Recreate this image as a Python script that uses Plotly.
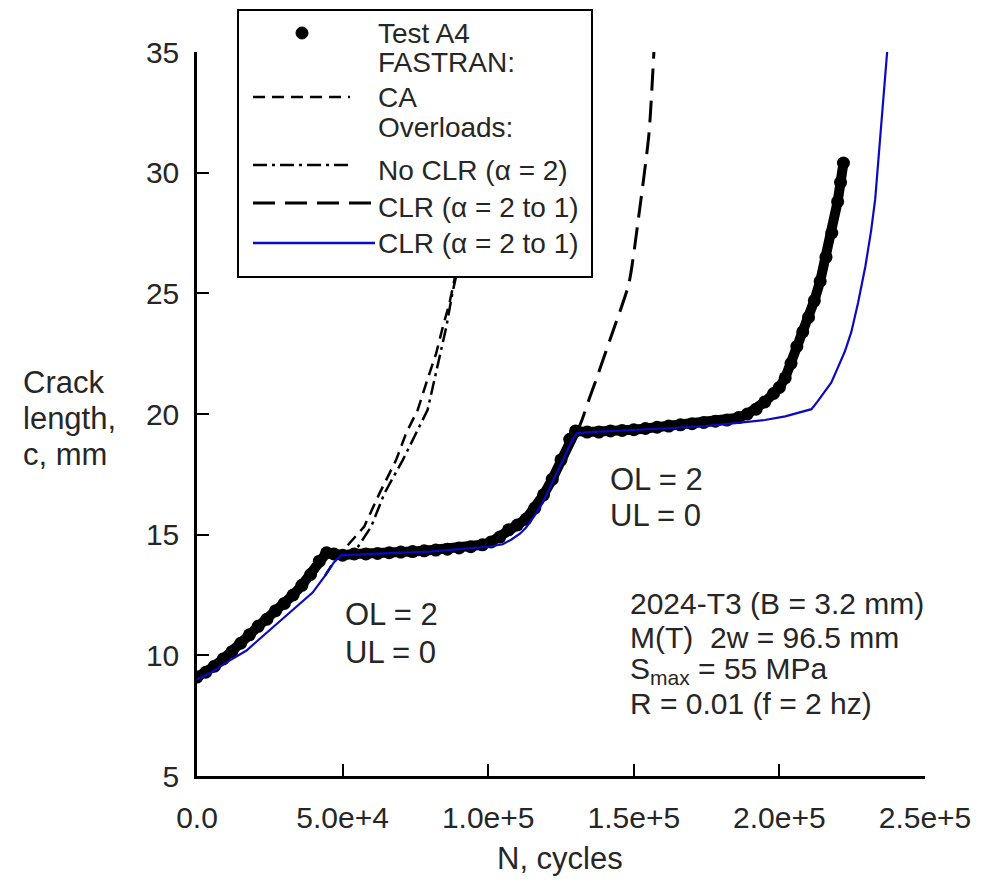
import plotly.graph_objects as go

# ---------------- data ----------------
test_N = [0, 3000, 6000, 9000, 12000, 15000, 18000, 21000, 24000, 27000, 30000, 33000,
          36000, 39000, 42000, 44500, 47000, 50000, 54000, 58000, 62000, 66000, 70000,
          74000, 78000, 82000, 86000, 90000, 94000, 98000, 101000, 104000, 107000, 110000,
          113000, 116000, 119000, 122000, 125000, 128000, 130000, 134000, 138000, 142000,
          146000, 150000, 154000, 158000, 162000, 166000, 170000, 174000, 178000, 182000,
          186000, 189000, 192000, 195000, 198000, 200000, 202000, 204000, 206000, 208000,
          210000, 212000, 214000, 216000, 218000, 220000, 221000, 222000]
test_c = [9.1, 9.3, 9.55, 9.85, 10.15, 10.5, 10.85, 11.2, 11.5, 11.85, 12.15, 12.5,
          12.9, 13.35, 13.9, 14.25, 14.2, 14.15, 14.2, 14.2, 14.22, 14.25, 14.28,
          14.3, 14.33, 14.36, 14.4, 14.45, 14.5, 14.58, 14.7, 14.9, 15.2, 15.4,
          15.65, 16.1, 16.65, 17.3, 18.1, 18.95, 19.3, 19.25, 19.25, 19.3,
          19.32, 19.35, 19.4, 19.45, 19.5, 19.55, 19.6, 19.65, 19.7, 19.75,
          19.85, 20.0, 20.2, 20.5, 20.85, 21.1, 21.5, 22.1, 22.8, 23.4,
          24.0, 24.7, 25.5, 26.5, 27.5, 28.8, 29.6, 30.4]

ca_N = [44000, 46600, 51300, 57400, 62700, 68400, 71800, 75800, 78700, 82100, 84400,
        86700, 88400, 92000, 96000, 100000, 103000]
ca_c = [13.3, 13.8, 14.5, 15.33, 16.72, 18.1, 19.2, 20.17, 21.27, 22.5, 23.6,
        24.6, 25.56, 27.6, 30.2, 33.0, 35.0]

noclr_N = [49500, 53000, 55300, 59800, 64400, 70700, 79200, 83200, 85600, 87700,
           92000, 96000, 100000, 103500]
noclr_c = [14.15, 14.24, 14.5, 15.33, 16.72, 18.1, 20.17, 22.24, 23.6, 25.0,
           27.4, 30.0, 32.8, 35.0]

clr_N = [130500, 132200, 134600, 137000, 142600, 148300, 151700, 155200, 156900]
clr_c = [19.25, 19.75, 20.6, 21.4, 23.35, 25.4, 28.2, 31.6, 35.0]

blue_N = [0, 5000, 10000, 17000, 25000, 32000, 39700, 44000, 47000, 49500,
          52000, 60000, 70000, 80000, 90000, 100000, 105000, 108000, 111000, 113000,
          116000, 118600, 121000, 124000, 126500, 128800, 130500, 135000, 145000, 160000,
          175000, 183600, 195000, 202000, 207000, 211000, 213000, 215500, 217800, 220000,
          222500, 224700, 227000, 229500, 231500, 232900, 234000, 235000, 236000, 237000]
blue_c = [9.0, 9.3, 9.7, 10.2, 11.05, 11.8, 12.6, 13.3, 13.85, 14.15,
          14.15, 14.2, 14.25, 14.3, 14.4, 14.5, 14.6, 14.8, 15.05, 15.3,
          15.8, 16.3, 16.9, 17.7, 18.3, 18.9, 19.2, 19.25, 19.3, 19.4,
          19.5, 19.6, 19.75, 19.9, 20.05, 20.2, 20.5, 20.9, 21.3, 21.9,
          22.6, 23.4, 24.6, 26.1, 27.6, 28.9, 30.5, 32.0, 33.5, 35.0]

x_tickvals = [0, 50000, 100000, 150000, 200000, 250000]
x_ticktext = ["0.0", "5.0e+4", "1.0e+5", "1.5e+5", "2.0e+5", "2.5e+5"]
y_tickvals = [5, 10, 15, 20, 25, 30, 35]

legend_labels = ["Test A4", "FASTRAN:", "CA", "Overloads:",
                 "No CLR (\u03b1 = 2)", "CLR (\u03b1 = 2 to 1)", "CLR (\u03b1 = 2 to 1)"]
info_lines = ["2024-T3 (B = 3.2 mm)", "M(T)  2w = 96.5 mm",
              "S<sub>max</sub> = 55 MPa", "R = 0.01 (f = 2 hz)"]

# ---------------- styles ----------------
FONT = "Liberation Sans, Arial, sans-serif"
TXT = "#262626"
BLUE = "#0A0AC0"
# page has an 8px body margin; plot area in page pixels: x 197..925, y 52..776
W, H = 989, 868
L, T = 189, 44
PW, PH = 728, 724
R, B = W - L - PW, H - T - PH


def px(x):  # page pixel -> paper
    return (x - 197) / PW


def py(y):
    return (776 - y) / PH


fig = go.Figure()
fig.add_trace(go.Scatter(x=ca_N, y=ca_c, mode="lines", showlegend=False,
                         line=dict(color="black", width=2.5, dash="12px,7px")))
fig.add_trace(go.Scatter(x=noclr_N, y=noclr_c, mode="lines", showlegend=False,
                         line=dict(color="black", width=2.5, dash="14px,5px,3px,5px")))
fig.add_trace(go.Scatter(x=clr_N, y=clr_c, mode="lines", showlegend=False,
                         line=dict(color="black", width=3, dash="22px,10px", shape="spline",
                                   smoothing=0.6)))
fig.add_trace(go.Scatter(x=test_N, y=test_c, mode="lines+markers", showlegend=False,
                         line=dict(color="black", width=10),
                         marker=dict(symbol="circle", size=13, color="black")))
fig.add_trace(go.Scatter(x=blue_N, y=blue_c, mode="lines", showlegend=False,
                         line=dict(color=BLUE, width=2.2)))

axis_common = dict(showline=True, linecolor="black", linewidth=2.5, mirror=False,
                   ticks="inside", ticklen=12, tickwidth=2, tickcolor="black",
                   showgrid=False, zeroline=False,
                   tickfont=dict(family=FONT, size=30, color=TXT))
fig.update_xaxes(range=[0, 250000], tickvals=x_tickvals, ticktext=x_ticktext,
                 ticklabelstandoff=13, **axis_common)
fig.update_yaxes(range=[5, 35], tickvals=y_tickvals, ticklabelstandoff=9,
                 **axis_common)

shapes = []
annotations = []

# legend box (drawn manually)
shapes.append(dict(type="rect", xref="paper", yref="paper", layer="above",
                   x0=px(238), x1=px(592), y0=py(277), y1=py(10),
                   fillcolor="white", line=dict(color="black", width=2)))
shapes.append(dict(type="circle", xref="paper", yref="paper", layer="above",
                   x0=px(296), x1=px(308), y0=py(39), y1=py(27),
                   fillcolor="black", line=dict(color="black", width=1)))
legend_lines = [(97, 350, "black", 2.5, "12px,7px"),
                (165, 352, "black", 2.5, "14px,5px,3px,5px"),
                (203, 372, "black", 3, "22px,10px"),
                (243, 375, BLUE, 2.5, "solid")]
for yy, xe, col, wd, ds in legend_lines:
    shapes.append(dict(type="line", xref="paper", yref="paper", layer="above",
                       x0=px(253), x1=px(xe), y0=py(yy), y1=py(yy),
                       line=dict(color=col, width=wd, dash=ds)))
legend_y = [33, 63, 97, 128, 170, 207, 243]
for lab, yy in zip(legend_labels, legend_y):
    annotations.append(dict(text=lab, xref="paper", yref="paper", x=px(376), y=py(yy),
                            xanchor="left", yanchor="middle", showarrow=False,
                            font=dict(family=FONT, size=28, color=TXT)))

# axis titles
for lab, yy in zip(["Crack", "length,", "c, mm"], [382, 418, 455]):
    annotations.append(dict(text=lab, xref="paper", yref="paper", x=px(21), y=py(yy),
                            xanchor="left", yanchor="middle", showarrow=False,
                            font=dict(family=FONT, size=31, color=TXT)))
annotations.append(dict(text="N, cycles", xref="paper", yref="paper", x=px(560), y=py(858),
                        xanchor="center", yanchor="middle", showarrow=False,
                        font=dict(family=FONT, size=31, color=TXT)))

# in-plot notes
for lab, xx, yy in [("OL = 2", 343, 614), ("UL = 0", 343, 652),
                    ("OL = 2", 608, 479), ("UL = 0", 608, 516)]:
    annotations.append(dict(text=lab, xref="paper", yref="paper", x=px(xx), y=py(yy),
                            xanchor="left", yanchor="middle", showarrow=False,
                            font=dict(family=FONT, size=31, color=TXT)))
for lab, yy in zip(info_lines, [603, 637, 670, 703]):
    annotations.append(dict(text=lab, xref="paper", yref="paper", x=px(628), y=py(yy),
                            xanchor="left", yanchor="middle", showarrow=False,
                            font=dict(family=FONT, size=30, color=TXT)))

fig.update_layout(width=W, height=H, margin=dict(l=L, r=R, t=T, b=B, pad=0),
                  paper_bgcolor="white", plot_bgcolor="white", showlegend=False,
                  shapes=shapes, annotations=annotations)

fig.write_html("out.html")
